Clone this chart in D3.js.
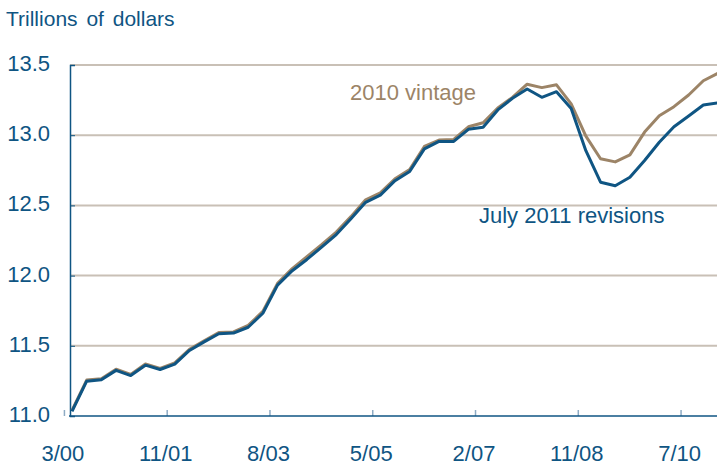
<!DOCTYPE html>
<html>
<head>
<meta charset="utf-8">
<script src="https://cdn.jsdelivr.net/npm/d3@7"></script>
<style>
	body { margin: 0; background: #fff; }
	text { font-family: "Liberation Sans", Arial, sans-serif; }
</style>
</head>
<body>
<div id="chart"></div>
<script>
// Real GDP, quarterly 2000Q1 - 2011Q1, trillions of dollars

let quarters 	= d3.range( 0, 45 ) ;		// 0 = 2000Q1 ... 44 = 2011Q1

let vintage2010 = [
	11.040, 11.256, 11.266, 11.333,
	11.296, 11.370, 11.339, 11.378,
	11.475, 11.536, 11.594, 11.599,
	11.645, 11.745, 11.945, 12.050,
	12.135, 12.220, 12.310, 12.420,
	12.540, 12.590, 12.690, 12.755,
	12.920, 12.965, 12.970, 13.060,
	13.089, 13.194, 13.269, 13.363,
	13.339, 13.359, 13.223, 12.993,
	12.832, 12.810, 12.860, 13.022,
	13.139, 13.203, 13.286, 13.388,
	13.441
] ;

let revised2011 = [
	11.033, 11.248, 11.258, 11.325,
	11.288, 11.362, 11.331, 11.370,
	11.467, 11.528, 11.586, 11.591,
	11.632, 11.732, 11.932, 12.035,
	12.115, 12.203, 12.292, 12.405,
	12.522, 12.573, 12.676, 12.742,
	12.903, 12.956, 12.956, 13.042,
	13.056, 13.180, 13.263, 13.329,
	13.270, 13.310, 13.190, 12.890,
	12.665, 12.640, 12.700, 12.820,
	12.950, 13.060, 13.137, 13.215,
	13.231
] ;

let yTicks 		= [ 11.0, 11.5, 12.0, 12.5, 13.0, 13.5 ] ;
let xTickLabels = [ "3/00", "11/01", "8/03", "5/05", "2/07", "11/08", "7/10" ] ;

let blue 	= "#0f5583" ;
let brown 	= "#9c8467" ;
let grid 	= "#c9c0b6" ;

let svgwidth 	= 717 ;
let svgheight 	= 468 ;

let margin 	= { 'top': 65, 'left': 70, 'bottom': 52 } ;

let svg = d3.select("#chart").append("svg")
			.attr("width", svgwidth )
			.attr("height", svgheight )
		;

// scales
let x 	= d3.scaleLinear()
			.domain( [ 0, 44 ] )
			.range( [ 72, 718 ] )
		;

let y 	= d3.scaleLinear()
			.domain( [ 11, 13.5 ] )
			.range( [ svgheight - margin.bottom, margin.top ] )
		;

// gridlines
svg.append("g")
	.selectAll("line")
	.data( yTicks.filter( d => d > 11 ) )
	.enter().append("line")
		.attr("x1", margin.left )
		.attr("x2", svgwidth )
		.attr("y1", d => y(d) )
		.attr("y2", d => y(d) )
		.attr("stroke", grid )
		.attr("stroke-width", 2 )
;

// y axis
let yAxis = svg.append("g")
	.attr("transform", "translate(" + margin.left + ",0)")
	.call( d3.axisRight(y).tickValues(yTicks).tickSize(5).tickFormat("") )
;
yAxis.select(".domain").attr("stroke", blue ).attr("stroke-width", 1.5 ) ;
yAxis.selectAll(".tick line").attr("stroke", blue ) ;

svg.append("g")
	.selectAll("text")
	.data( yTicks )
	.enter().append("text")
		.attr("x", 50 )
		.attr("y", d => y(d) + 6 )
		.attr("text-anchor", "end")
		.attr("font-size", 22 )
		.attr("fill", blue )
		.text( d => d.toFixed(1) )
;

// x axis, a tick every 7 quarters
let xTicks = xTickLabels.map( ( d, i ) => -0.55 + 7 * i ) ;

let xAxis = svg.append("g")
	.attr("transform", "translate(0," + y(11) + ")")
	.call( d3.axisTop(x).tickValues( xTicks ).tickSize(6).tickFormat("") )
;
xAxis.select(".domain").remove() ;
xAxis.selectAll(".tick line").attr("stroke", "#8eabc4").attr("stroke-width", 1.5 ) ;

svg.append("line")
	.attr("x1", margin.left - 1 )
	.attr("x2", svgwidth )
	.attr("y1", y(11) )
	.attr("y2", y(11) )
	.attr("stroke", blue )
	.attr("stroke-width", 1.5 )
;

svg.append("g")
	.selectAll("text")
	.data( xTickLabels )
	.enter().append("text")
		.attr("x", ( d, i ) => x( xTicks[i] ) - 1 )
		.attr("y", 461 )
		.attr("text-anchor", "middle")
		.attr("font-size", 22 )
		.attr("fill", blue )
		.text( d => d )
;

// lines
let line = d3.line()
	.x( ( d, i ) => x( quarters[i] ) )
	.y( d => y(d) )
;

svg.append("path")
	.datum( vintage2010 )
	.attr("fill", "none")
	.attr("stroke", brown )
	.attr("stroke-width", 3 )
	.attr("stroke-linejoin", "round")
	.attr("d", line )
;

svg.append("path")
	.datum( revised2011 )
	.attr("fill", "none")
	.attr("stroke", blue )
	.attr("stroke-width", 3 )
	.attr("stroke-linejoin", "round")
	.attr("d", line )
;

// labels
svg.append("text")
	.attr("x", 6 )
	.attr("y", 26 )
	.attr("font-size", 21 )
	.attr("word-spacing", 3 )
	.attr("fill", blue )
	.text("Trillions of dollars")
;

svg.append("text")
	.attr("x", 350 )
	.attr("y", 100 )
	.attr("font-size", 22 )
	.attr("fill", brown )
	.text("2010 vintage")
;

svg.append("text")
	.attr("x", 479 )
	.attr("y", 223 )
	.attr("font-size", 22 )
	.attr("fill", blue )
	.text("July 2011 revisions")
;
</script>
</body>
</html>
